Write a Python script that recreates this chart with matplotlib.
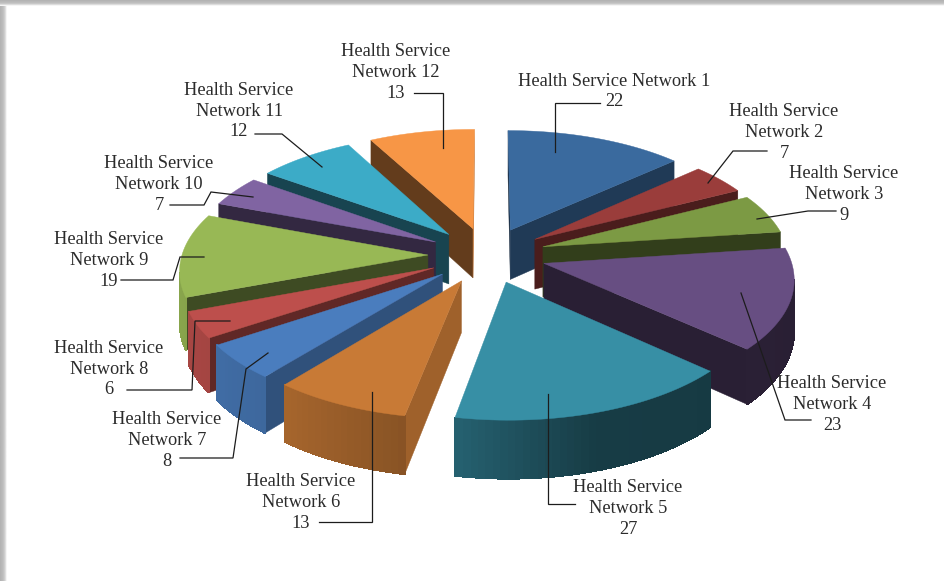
import numpy as np
import matplotlib
matplotlib.use("Agg")
import matplotlib.pyplot as plt
from matplotlib.colors import to_rgb
from matplotlib.patches import Polygon

# data
networks = ["Health Service Network %d" % i for i in range(1, 13)]
values = [22, 7, 9, 23, 27, 13, 8, 6, 19, 7, 12, 13]
colors = ["#3A6A9E", "#9A3D3B", "#7C9A44", "#674E82", "#378FA5", "#C87A36",
          "#4A7DBE", "#BD4F4C", "#98B855", "#8064A2", "#3CABC7", "#F79646"]

# label centres (x, y of the value line) and leader lines, pixels
label_pos = [(614, 100), (784, 151), (844, 213), (832, 423), (628, 527), (301, 521),
             (167, 459), (109, 388), (109, 279), (159, 203), (239, 130), (396, 91)]
leaders = [
    [(600, 103), (555, 103), (555, 152)],
    [(767, 151), (733, 151), (708, 183)],
    [(836, 211), (808, 211), (757, 219)],
    [(811, 420), (785, 420), (741, 293)],
    [(575, 504), (548, 504), (548, 394)],
    [(319, 522), (372, 522), (372, 392)],
    [(180, 458), (233, 458), (246, 369), (268, 353)],
    [(127, 390), (192, 390), (195, 321), (230, 321)],
    [(121, 280), (173, 280), (180, 257), (204, 257)],
    [(170, 205), (204, 205), (211, 192), (253, 197)],
    [(255, 134), (282, 134), (322, 167)],
    [(414, 93), (443, 93), (443, 148)],
]

# pie geometry
CX, CY = 487, 255
RX, RY = 246, 116
CAM = 8.9
EXPLODE = 0.24
DEPTH = 50.5


def project(x, y, z=0.0):
    s = CAM / (CAM + y)
    return CX + RX * x * s, CY - RY * y * s + DEPTH * z * s


def side_shade(theta):
    return np.interp(np.sin(theta), [-1, -0.6, -0.19, 0.3, 1], [0.9, 0.82, 0.68, 0.42, 0.4])


def cut_shade(normal_deg):
    normal_deg = normal_deg % 360
    return np.interp(normal_deg, [0, 100, 129, 138, 153, 160, 360],
                     [0.8, 0.8, 0.65, 0.54, 0.48, 0.4, 0.4])


def area(pts):
    xs, ys = np.array(pts).T
    return 0.5 * np.sum(xs * np.roll(ys, -1) - np.roll(xs, -1) * ys)


def dark(color, f):
    return tuple(c * f for c in to_rgb(color))


def draw_slice(ax, start, end, color):
    mid = (start + end) / 2
    ox, oy = EXPLODE * np.sin(mid), EXPLODE * np.cos(mid)
    th = np.linspace(start, end, max(int((end - start) * 40), 4))
    xs = ox + np.sin(th)
    ys = oy + np.cos(th)

    # cut faces, clockwise order on screen so the visible ones have one sign
    for t, sign, i in ((start, -1, 0), (end, 1, -1)):
        face = [project(ox, oy), project(xs[i], ys[i]), project(xs[i], ys[i], 1), project(ox, oy, 1)]
        if area(face) * sign > 0:
            f = cut_shade(np.degrees(t) + sign * 90)
            ax.add_patch(Polygon(face, closed=True, fc=dark(color, f), ec=dark(color, f), lw=0.3))

    # outer wall, strip by strip, no antialiasing or the seams show
    for k in range(len(th) - 1):
        face = [project(xs[k], ys[k]), project(xs[k + 1], ys[k + 1]),
                project(xs[k + 1], ys[k + 1], 1), project(xs[k], ys[k], 1)]
        if area(face) < 0:
            f = side_shade((th[k] + th[k + 1]) / 2)
            ax.add_patch(Polygon(face, closed=True, fc=dark(color, f), ec=dark(color, f),
                                 lw=0.5, antialiased=False))

    top = [project(ox, oy)] + [project(a, b) for a, b in zip(xs, ys)]
    ax.add_patch(Polygon(top, closed=True, fc=color, ec=color, lw=0.3))


fig = plt.figure(figsize=(9.45, 5.81), dpi=100)
ax = fig.add_axes([0, 0, 1, 1])
ax.set_xlim(0, 945)
ax.set_ylim(581, 0)
ax.axis("off")

# page shadow along the top and left edge
shadow = np.array([[0.70, 0.72, 0.74, 0.78, 0.86, 0.96]])
ax.imshow(shadow, extent=(0, 7, 581, 0), cmap="gray", vmin=0, vmax=1, aspect="auto", zorder=5)
ax.imshow(shadow.T, extent=(0, 945, 6, 0), cmap="gray", vmin=0, vmax=1, aspect="auto", zorder=5)
ax.set_xlim(0, 945)
ax.set_ylim(581, 0)

edges = np.cumsum([0] + values) / sum(values) * 2 * np.pi
mids = (edges[:-1] + edges[1:]) / 2

# back slices first
for i in np.argsort(-np.cos(mids)):
    draw_slice(ax, edges[i], edges[i + 1], colors[i])

for i, name in enumerate(networks):
    x, y = label_pos[i]
    if i == 0:
        txt = name + "\n" + str(values[i])
    else:
        txt = name.replace(" Network", "\nNetwork") + "\n" + str(values[i])
    ax.text(x, y + 10.5, txt, ha="center", va="bottom", multialignment="center",
            family="Liberation Serif", fontsize=13.2, color="#2b2b2b", linespacing=1.28, zorder=10)
    xs, ys = zip(*leaders[i])
    ax.plot(xs, ys, color="#1c1c1c", lw=0.9, solid_joinstyle="miter", zorder=9)

fig.savefig("out.png", dpi=100)
